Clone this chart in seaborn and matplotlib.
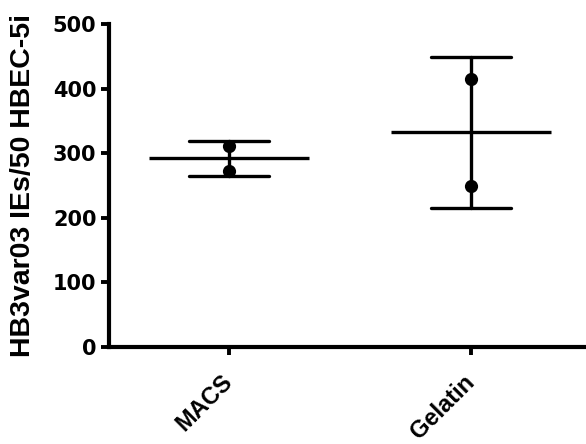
import matplotlib
matplotlib.use("Agg")
import matplotlib.pyplot as plt
import seaborn as sns
import pandas as pd

# Data
categories = ["MACS", "Gelatin"]
macs_values = [311, 273]
gelatin_values = [415, 249]
y_ticks = [0, 100, 200, 300, 400, 500]
y_label = "HB3var03 IEs/50 HBEC-5i"

df = pd.DataFrame({
    "group": ["MACS"] * len(macs_values) + ["Gelatin"] * len(gelatin_values),
    "value": macs_values + gelatin_values,
})

sns.set_theme(style="ticks")
plt.rcParams["font.family"] = ["Liberation Sans", "DejaVu Sans"]
plt.rcParams["text.color"] = "black"
plt.rcParams["axes.labelcolor"] = "black"

fig = plt.figure(figsize=(5.86, 4.44), dpi=100)
ax = fig.add_axes([109 / 586, (444 - 346.7) / 444, (586 - 109) / 586, (346.7 - 24) / 444])

sns.pointplot(data=df, x="group", y="value", order=categories, ax=ax,
              errorbar="sd", capsize=0.33, color="black", linestyle="none",
              marker="_", markersize=115, markeredgewidth=2.4,
              err_kws={"linewidth": 2.4})
sns.stripplot(data=df, x="group", y="value", order=categories, ax=ax,
              jitter=False, color="black", size=9.5, zorder=5)

ax.set_ylim(0, 500)
ax.set_xlim(-0.496, 1.473)
ax.set_yticks(y_ticks)
ax.set_yticklabels([str(t) for t in y_ticks], fontsize=15, fontweight="bold",
                   family="DejaVu Sans", color="black")
ax.set_xticks(range(len(categories)))
ax.set_xticklabels(categories, fontsize=17, fontweight="bold", rotation=45,
                   ha="right", va="center", rotation_mode="anchor", color="black")
ax.set_xlabel("")
ax.set_ylabel(y_label, fontsize=20.5, fontweight="bold", labelpad=12, color="black")

for side in ["top", "right"]:
    ax.spines[side].set_visible(False)
for side in ["left", "bottom"]:
    ax.spines[side].set_linewidth(3)
    ax.spines[side].set_color("black")
ax.tick_params(axis="both", colors="black", width=2.8, length=6)
ax.tick_params(axis="y", pad=3)
ax.tick_params(axis="x", pad=17)

fig.savefig("out.png", dpi=100, facecolor="white")
